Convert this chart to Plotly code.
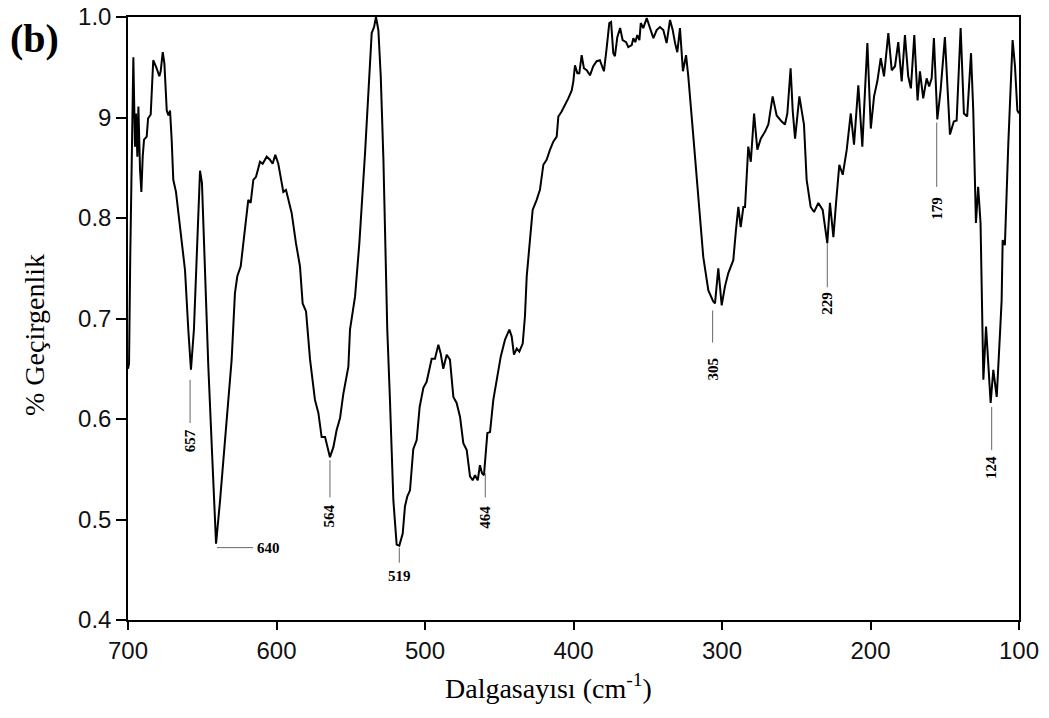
import plotly.graph_objects as go

# Wavenumber (cm-1) and transmittance
wavenumber = [700.0, 699.3, 698.5, 697.5, 696.4, 695.3, 694.6, 693.7, 693.0, 691.9, 691.0, 690.1, 689.2, 687.4,
              686.5, 684.7, 684.0, 683.0, 680.7, 678.9, 678.0, 676.6, 675.5, 673.9, 672.8, 671.7, 670.6, 669.5,
              667.7, 665.0, 661.6, 659.4, 657.6, 655.6, 653.3, 651.5, 650.2, 648.1, 646.6, 645.9, 643.0, 640.7,
              638.0, 633.5, 630.2, 628.0, 626.4, 624.1, 621.9, 619.0, 617.4, 615.6, 613.8, 611.1, 609.3, 606.6,
              604.4, 602.6, 600.8, 598.8, 596.5, 595.4, 593.6, 589.8, 586.9, 584.2, 582.4, 580.1, 577.4, 574.1,
              571.8, 569.6, 567.3, 565.8, 564.0, 561.7, 559.5, 557.2, 555.0, 551.6, 550.5, 547.1, 544.2, 540.4,
              537.0, 535.9, 534.3, 533.0, 531.4, 529.8, 528.0, 526.5, 525.4, 523.6, 521.3, 519.1, 517.3, 515.0,
              513.5, 511.9, 510.1, 507.9, 505.6, 503.6, 501.1, 498.9, 495.5, 493.3, 491.0, 489.4, 487.7, 485.4,
              483.2, 480.9, 478.7, 476.4, 474.2, 471.9, 469.7, 467.9, 466.3, 464.5, 463.0, 461.6, 460.3, 458.0,
              456.2, 454.0, 451.7, 449.0, 446.1, 443.2, 441.6, 440.1, 438.2, 436.5, 434.2, 432.7, 431.5, 429.3,
              427.5, 424.8, 422.6, 420.3, 418.1, 415.8, 413.6, 411.3, 410.2, 408.0, 405.7, 403.5, 401.2, 400.1,
              399.0, 397.4, 396.1, 394.5, 393.0, 391.1, 388.9, 386.7, 384.4, 382.2, 381.0, 379.5, 377.6, 375.9,
              374.7, 373.2, 372.1, 370.5, 368.6, 366.9, 364.6, 363.1, 360.8, 359.7, 358.4, 357.0, 355.6, 354.7,
              353.0, 350.7, 348.5, 346.2, 344.0, 341.8, 339.5, 337.3, 335.0, 333.2, 331.6, 330.1, 328.3, 326.3,
              324.2, 322.7, 319.3, 316.0, 312.6, 309.2, 305.9, 304.7, 302.5, 300.2, 298.0, 295.8, 292.4, 290.6,
              289.0, 287.4, 285.6, 284.5, 282.3, 280.6, 278.4, 276.2, 273.9, 271.0, 268.8, 265.9, 263.2, 259.8,
              257.6, 256.0, 253.8, 252.4, 250.8, 247.9, 244.8, 243.0, 240.3, 238.0, 235.1, 232.2, 230.6, 229.1,
              227.3, 225.0, 223.2, 221.0, 218.7, 216.0, 213.3, 211.1, 208.2, 205.5, 203.7, 202.1, 199.8, 197.6,
              195.4, 193.1, 190.9, 188.0, 185.7, 183.5, 181.3, 179.0, 176.8, 174.6, 172.8, 170.5, 168.3, 166.7,
              164.5, 162.2, 160.5, 158.8, 157.3, 155.0, 152.8, 149.9, 146.5, 143.9, 142.0, 139.3, 137.1, 134.9,
              132.3, 130.8, 129.0, 127.5, 125.9, 125.1, 124.0, 122.2, 120.7, 119.1, 117.3, 115.0, 112.8, 111.7,
              111.0, 109.5, 107.2, 105.6, 104.3, 102.7, 101.1, 100.0]

transmittance = [0.650, 0.655, 0.760, 0.880, 0.960, 0.871, 0.904, 0.861, 0.911, 0.848, 0.826, 0.861, 0.878, 0.881,
                 0.899, 0.903, 0.924, 0.957, 0.949, 0.941, 0.946, 0.965, 0.954, 0.907, 0.902, 0.907, 0.878, 0.838,
                 0.826, 0.791, 0.748, 0.689, 0.649, 0.689, 0.775, 0.847, 0.835, 0.742, 0.689, 0.652, 0.553, 0.476,
                 0.519, 0.599, 0.659, 0.725, 0.742, 0.752, 0.781, 0.818, 0.815, 0.838, 0.841, 0.856, 0.854, 0.861,
                 0.858, 0.854, 0.863, 0.854, 0.835, 0.826, 0.828, 0.805, 0.775, 0.752, 0.715, 0.707, 0.659, 0.619,
                 0.606, 0.582, 0.582, 0.572, 0.562, 0.572, 0.589, 0.601, 0.625, 0.652, 0.689, 0.722, 0.775, 0.864,
                 0.947, 0.984, 0.990, 1.000, 0.987, 0.941, 0.858, 0.761, 0.689, 0.619, 0.519, 0.475, 0.474, 0.486,
                 0.513, 0.523, 0.529, 0.570, 0.579, 0.612, 0.631, 0.637, 0.660, 0.660, 0.674, 0.665, 0.650, 0.664,
                 0.659, 0.622, 0.616, 0.602, 0.576, 0.569, 0.543, 0.539, 0.544, 0.539, 0.554, 0.546, 0.544, 0.586,
                 0.587, 0.619, 0.639, 0.662, 0.679, 0.689, 0.682, 0.664, 0.670, 0.667, 0.675, 0.702, 0.742, 0.781,
                 0.808, 0.818, 0.828, 0.853, 0.858, 0.868, 0.876, 0.881, 0.901, 0.906, 0.912, 0.919, 0.927, 0.936,
                 0.952, 0.944, 0.944, 0.962, 0.949, 0.947, 0.942, 0.951, 0.956, 0.957, 0.952, 0.946, 0.970, 0.994,
                 0.995, 0.964, 0.961, 0.980, 0.989, 0.977, 0.975, 0.970, 0.972, 0.979, 0.975, 0.982, 0.977, 0.994,
                 0.989, 0.999, 0.989, 0.979, 0.987, 0.990, 0.987, 0.974, 0.997, 0.987, 0.974, 0.965, 0.989, 0.946,
                 0.962, 0.941, 0.881, 0.821, 0.761, 0.728, 0.717, 0.715, 0.750, 0.713, 0.732, 0.745, 0.758, 0.788,
                 0.811, 0.791, 0.811, 0.811, 0.871, 0.856, 0.904, 0.868, 0.879, 0.886, 0.893, 0.921, 0.902, 0.896,
                 0.893, 0.904, 0.949, 0.907, 0.879, 0.921, 0.893, 0.838, 0.811, 0.806, 0.815, 0.808, 0.791, 0.775,
                 0.815, 0.781, 0.815, 0.853, 0.843, 0.868, 0.904, 0.873, 0.932, 0.871, 0.927, 0.974, 0.889, 0.921,
                 0.936, 0.959, 0.941, 0.984, 0.947, 0.951, 0.975, 0.936, 0.982, 0.941, 0.929, 0.982, 0.917, 0.946,
                 0.919, 0.939, 0.931, 0.939, 0.979, 0.898, 0.927, 0.980, 0.883, 0.896, 0.897, 0.989, 0.904, 0.901,
                 0.964, 0.907, 0.795, 0.831, 0.795, 0.718, 0.639, 0.692, 0.652, 0.616, 0.649, 0.622, 0.685, 0.718,
                 0.778, 0.773, 0.874, 0.941, 0.977, 0.951, 0.907, 0.904]

# Peak labels: label text, x of the marker line, line top/bottom, text centre
peak_labels = ["657", "564", "464", "305", "229", "179", "124"]
peak_x = [658.2, 564.0, 459.4, 306.3, 229.1, 155.4, 118.4]
peak_line_top = [0.639, 0.559, 0.546, 0.708, 0.775, 0.895, 0.612]
peak_line_bottom = [0.596, 0.522, 0.522, 0.676, 0.731, 0.831, 0.569]
peak_text_y = [0.578, 0.504, 0.502, 0.650, 0.715, 0.810, 0.552]

x_ticks = [700, 600, 500, 400, 300, 200, 100]
y_ticks = [0.4, 0.5, 0.6, 0.7, 0.8, 0.9, 1.0]
y_tick_text = ["0.4", "0.5", "0.6", "0.7", "0.8", "9", "1.0"]

fig = go.Figure()
fig.add_trace(go.Scatter(x=wavenumber, y=transmittance, mode="lines",
                         line=dict(color="black", width=2), showlegend=False))

shapes = []
annotations = []
label_font = dict(family="Liberation Serif", size=15, color="black")
for lab, px, yt, yb, ty in zip(peak_labels, peak_x, peak_line_top, peak_line_bottom, peak_text_y):
    shapes.append(dict(type="line", xref="x", yref="y", x0=px, x1=px, y0=yt, y1=yb,
                       line=dict(color="#666666", width=1)))
    annotations.append(dict(x=px, y=ty, xref="x", yref="y", text="<b>%s</b>" % lab, showarrow=False,
                            textangle=-90, font=label_font))

# 640: horizontal leader
shapes.append(dict(type="line", xref="x", yref="y", x0=640.1, x1=615.8, y0=0.472, y1=0.472,
                   line=dict(color="#666666", width=1)))
annotations.append(dict(x=615.8, y=0.472, xref="x", yref="y", text="<b>640</b>", showarrow=False,
                        xanchor="left", xshift=2, font=label_font))
# 519: short vertical leader with horizontal text
shapes.append(dict(type="line", xref="x", yref="y", x0=517.3, x1=517.3, y0=0.472, y1=0.457,
                   line=dict(color="#666666", width=1)))
annotations.append(dict(x=517.3, y=0.444, xref="x", yref="y", text="<b>519</b>", showarrow=False,
                        font=label_font))

# panel letter and axis titles
annotations.append(dict(x=-0.1347, y=0.965, xref="paper", yref="paper", text="<b>(b)</b>", showarrow=False,
                        xanchor="left", yanchor="middle",
                        font=dict(family="Liberation Serif", size=40, color="black")))
annotations.append(dict(x=0.4714, y=-0.111, xref="paper", yref="paper",
                        text="Dalgasayısı (cm<sup>-1</sup>)", showarrow=False,
                        xanchor="center", yanchor="middle",
                        font=dict(family="Liberation Serif", size=28, color="black")))
annotations.append(dict(x=-0.1055, y=0.4726, xref="paper", yref="paper",
                        text="% Geçirgenlik", showarrow=False, textangle=-90,
                        xanchor="center", yanchor="middle",
                        font=dict(family="Liberation Serif", size=28, color="black")))

fig.update_layout(
    width=1049, height=718,
    margin=dict(l=128, r=30, t=17, b=98),
    paper_bgcolor="white", plot_bgcolor="white",
    shapes=shapes, annotations=annotations,
    xaxis=dict(range=[700, 100], tickvals=x_ticks, ticks="outside", ticklen=8, tickwidth=1.5,
               tickcolor="black", showline=True, linecolor="black", linewidth=1.5, mirror=True,
               showgrid=False, zeroline=False, automargin=False, ticklabeloverflow="allow",
               tickfont=dict(family="Liberation Sans", size=24, color="#111111")),
    yaxis=dict(range=[0.4, 1.0], tickvals=y_ticks, ticktext=y_tick_text, ticks="outside", ticklen=10,
               tickwidth=1.5, tickcolor="black", showline=True, linecolor="black", linewidth=1.5,
               mirror=True, showgrid=False, zeroline=False, automargin=False, ticklabeloverflow="allow",
               tickfont=dict(family="Liberation Sans", size=24, color="#111111")),
)

fig.write_html("out.html", config={"displayModeBar": False},
               post_script="document.body.style.margin='0';")
